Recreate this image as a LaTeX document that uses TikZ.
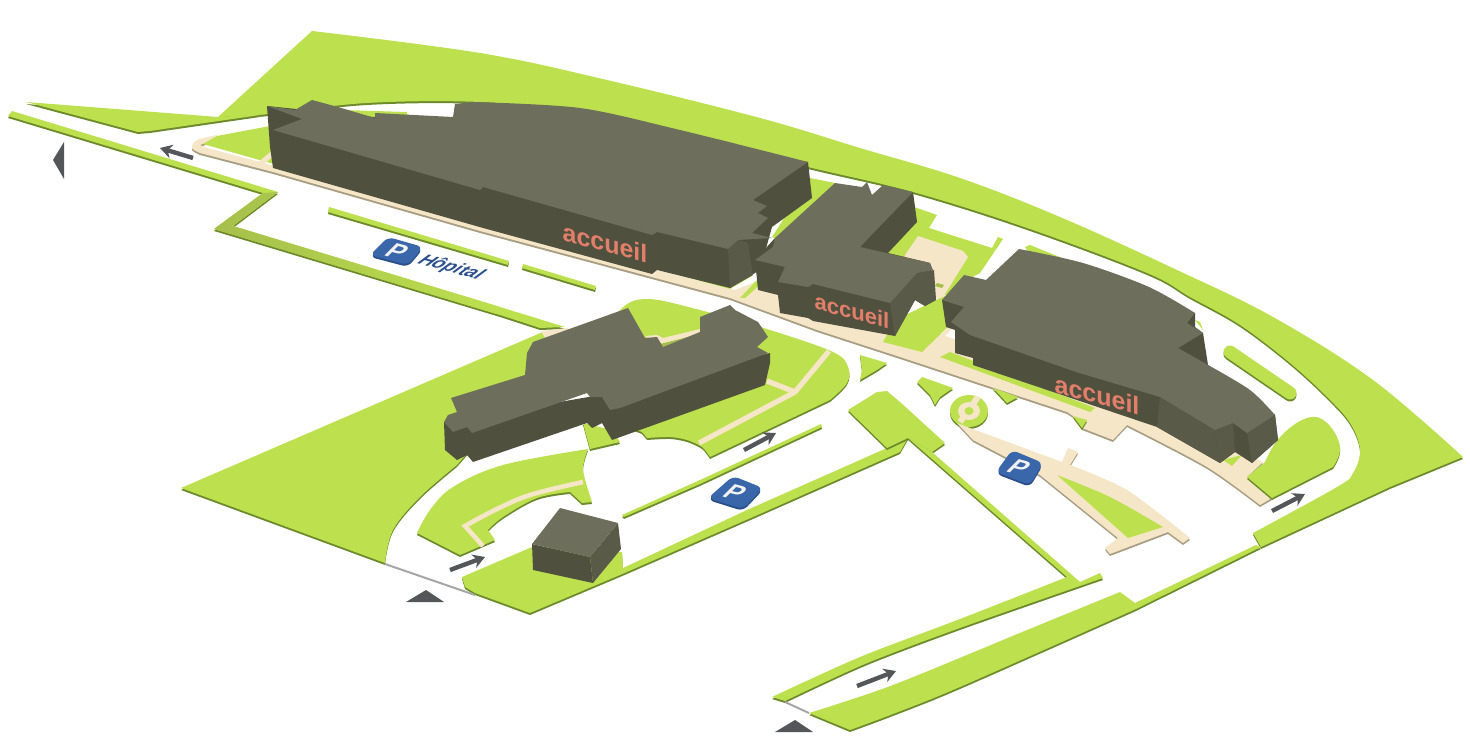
\documentclass[tikz,border=0pt]{standalone}
\usepackage{fontspec}
\setsansfont{Liberation Sans}
\usetikzlibrary{arrows.meta}
\definecolor{grass}{HTML}{BDE04E}
\definecolor{grassdark}{HTML}{6C8A2C}
\definecolor{grassdull}{HTML}{A6BF4C}
\definecolor{sand}{HTML}{F6E6C8}
\definecolor{sanddark}{HTML}{A89E84}
\definecolor{roofgrey}{HTML}{6E6E5C}
\definecolor{wallgrey}{HTML}{50503F}
\definecolor{sidegrey}{HTML}{5A5A49}
\definecolor{signblue}{HTML}{3A67AA}
\definecolor{signdark}{HTML}{2A4F8C}
\definecolor{markgrey}{HTML}{55565A}
\definecolor{salmon}{HTML}{E27F6B}
\tikzset{
  roof/.style={fill=roofgrey},
  wall/.style={fill=wallgrey},
  sidewall/.style={fill=sidegrey},
  marker/.style={fill=markgrey},
  gate/.style={draw=gray!70,line width=1pt},
  walkway/.style={draw=sand,line width=2.6pt},
  wayarrow/.style={draw=markgrey,line width=2.2pt,-{Stealth[length=6pt,width=7pt]}},
  flatsign/.style={font=\sffamily\bfseries,text=white!90!gray,inner sep=0pt,cm={1,-.27,.75,.75,(0,0)}},
  wallsign/.style={font=\sffamily\bfseries,text=salmon,inner sep=0pt,cm={1,-.27,0,1,(0,0)}}
}
\newcommand{\lawn}[1]{\fill[grassdark,shift={(0,2)}] #1; \fill[grass] #1;}
\newcommand{\pave}[1]{\fill[sanddark,shift={(0,2)}] #1; \fill[sand] #1;}
\newcommand{\psign}[1]{\fill[signdark,rounded corners=3pt,shift={(0,2)}] #1; \fill[signblue,rounded corners=3pt] #1;}
\begin{document}
\begin{tikzpicture}[x=.5pt,y=-.5pt]
\useasboundingbox (0,0) rectangle (1470,753);

% outer lawns
\lawn{(312,31) -- plot[smooth,tension=.6] coordinates {(312,31) (480,53) (607,80) (760,118) (860,148) (960,178) (1060,217) (1177,270) (1273,317) (1373,380) (1463,457)} -- (1390,487) -- (1261,547) -- (1253,533) -- plot[smooth,tension=.6] coordinates {(1253,533) (1337,487) (1353,473) (1360,450) (1350,423) (1327,397) (1290,363) (1240,325) (1190,297) (1147,273) (1027,228) (913,192) (808,167) (680,135) (580,112) (480,102) (367,103) (267,114) (218,117)} -- cycle}
\lawn{(26,102) -- (218,117) -- (267,114) -- (150,131) -- (138,132) -- cycle}
\lawn{(12,111) -- (278,192) -- (233,226) -- (500,307) -- (565,327) -- (540,328) -- (500,315) -- (214,229) -- (263,193) -- (8,116) -- cycle}
\shade[left color=grassdull,right color=grass] (278,192) -- (233,226) -- (500,307) -- (500,315) -- (214,229) -- (263,193) -- cycle;
\lawn{(329,207) -- (509,261) -- (508,265) -- (328,212) -- cycle}
\lawn{(523,264) -- (596,286) -- (595,290) -- (522,268) -- cycle}
\lawn{(343,110) -- (407,112) -- (407,125) -- (375,125) -- cycle}

% paved band along the main road
\pave{(217,135) -- plot[smooth] coordinates {(217,135) (197,140) (192,148) (200,153)} -- (273,172) -- (480,231) -- (730,298) -- (817,330) -- (900,357) -- (1067,412) -- (1073,416) -- (1082,428) -- (1113,440) -- (1127,425) -- plot[smooth] coordinates {(1127,425) (1207,467) (1260,505)} -- (1272,498) -- (1247,477) -- (1263,462) -- (1240,450) -- (1150,410) -- (1000,355) -- (900,320) -- (760,280) -- (735,290) -- (480,225) -- (275,166) -- (207,148) -- (200,145) -- (217,139) -- cycle}

% lawns beside the buildings
\fill[grass] (203,144) -- (217,136) -- (270,126) -- (290,168) -- (270,163) -- cycle;
\draw[walkway] (260,164) -- (272,154);
\fill[grass] (440,212) -- (660,270) -- (730,289) -- (752,276) -- (740,240) -- (500,200) -- cycle;
\fill[grass] (740,298) -- (757,280) -- (762,283) -- (745,298) -- cycle;
\fill[grass] (810,178) -- (835,183) -- (917,208) -- (937,215) -- (929,228) -- (992,248) -- (998,237) -- (1003,239) -- (980,273) -- (967,280) -- (947,295) -- (895,300) -- (772,237) -- cycle;
\fill[sand] (918,236) -- (963,251) -- (968,257) -- (940,302) -- (905,272) -- (905,255) -- cycle;
\fill[grassdull] (937,283) -- (944,285) -- (942,288) -- (935,286) -- cycle;
\fill[grass] (1025,247) -- (1030,245) -- (1062,258) -- (1030,255) -- cycle;
\fill[grass] (883,342) -- (922,352) -- (955,320) -- (947,295) -- (895,320) -- cycle;
\draw[draw=sand,line width=2pt] (926,353) -- (952,326);
\fill[grass] (940,357) -- (950,352) -- (1095,408) -- (1090,412) -- cycle;
\lawn{(993,388) -- (1018,397) -- (1007,403) -- cycle}
\lawn{(1073,416) -- (1087,420) -- (1082,428) -- cycle}
\fill[grass] (1195,320) -- (1200,322) -- (1203,330) -- cycle;
\fill[grass] (1223,460) -- (1242,455) -- (1232,466) -- cycle;
\lawn{(1247,477) -- (1265,462) -- plot[smooth,tension=.7] coordinates {(1265,462) (1280,437) (1307,418) (1327,423) (1340,447) (1333,467)} -- (1272,498) -- cycle}
\draw[grassdark,line width=6.5pt,line cap=round] (1230,354) -- (1290,395);
\draw[grass,line width=6.5pt,line cap=round] (1230,352) -- (1290,393);

% lawns of the lower part
\lawn{(181,488) -- (545,331) -- (565,335) -- (470,450) -- plot[smooth,tension=.6] coordinates {(457,465) (420,497) (393,530) (385,563)} -- cycle}
\lawn{(600,345) -- plot[smooth,tension=.6] coordinates {(600,345) (620,310) (647,299) (700,310) (770,330) (833,352) (848,367) (847,383) (830,400)} -- (710,457) -- plot[smooth] coordinates {(710,457) (702,447) (687,440) (670,437) (647,438)} -- (642,432) -- (610,420) -- cycle}
\fill[sand] (541,331) -- (568,328) -- (565,338) -- (545,338) -- cycle;
\draw[walkway] (829,351) -- (795,392) -- (699,443);
\draw[walkway] (767,381) -- (795,392);
\fill[sand] (645,336) -- (657,335) -- (663,338) -- (700,329) -- (700,336) -- (663,347) -- cycle;
\fill[grassdull] (660,344) -- (692,336) -- (663,347) -- cycle;
\lawn{(583,423) -- (590,449) -- (620,442) -- (612,430) -- cycle}
\lawn{(417,533) -- plot[smooth,tension=.6] coordinates {(417,533) (430,510) (453,487) (503,465) (588,449)} -- plot[smooth] coordinates {(588,449) (583,470) (592,502)} -- (582,503) -- (570,492) -- plot[smooth,tension=.6] coordinates {(570,492) (537,498) (503,517) (488,530)} -- (495,540) -- (460,555) -- cycle}
\draw[draw=sand,line width=2.3pt] plot[smooth,tension=.6] coordinates {(583,482) (530,495) (495,510) (465,526)} -- (483,546);
\lawn{(462,577) -- (532,547) -- (622,552) -- (623,568) -- (747,510) -- (887,448) -- (908,438) -- (900,452) -- (753,517) -- (620,575) -- (530,613) -- (475,593) -- (465,587) -- cycle}
\lawn{(622,515) -- (700,480) -- (821,424) -- (822,427) -- (700,484) -- (624,517) -- cycle}
\lawn{(848,410) -- (877,392) -- (887,391) -- (900,402) -- (945,443) -- (932,452) -- (908,438) -- (887,448) -- cycle}
\lawn{(772,697) -- plot[smooth,tension=.5] coordinates {(772,697) (860,657) (960,619) (1067,577)} -- (908,438) -- (932,452) -- (1080,582) -- (1100,573) -- (1103,578) -- plot[smooth,tension=.5] coordinates {(1103,578) (960,628) (865,664) (785,701)} -- cycle}
\lawn{(809,713) -- plot[smooth,tension=.5] coordinates {(809,713) (893,685) (1027,630) (1120,592)} -- (1135,603) -- (1256,545) -- (1261,547) -- (1136,609) -- plot[smooth,tension=.5] coordinates {(1136,609) (960,687) (893,714) (850,730)} -- cycle}

% small islands and the roundabout
\lawn{(860,355) -- (887,363) -- (877,370) -- (860,380) -- (862,370) -- cycle}
\lawn{(917,382) -- (922,377) -- (953,388) -- (940,397) -- (935,405) -- (930,395) -- cycle}
\fill[grassdark] (969,413) ellipse [x radius=19,y radius=16];
\fill[grass] (969,411) ellipse [x radius=19,y radius=16];
\fill[sand] (969,411) ellipse [x radius=11,y radius=9];
\draw[draw=sand,line width=3pt] (978,397) -- (960,422);
\fill[grass] (969,411) ellipse [x radius=4.5,y radius=4];
\pave{(957,423) -- (970,428) -- (1062,462) -- (1068,448) -- (1078,452) -- (1070,465) -- plot[smooth,tension=.5] coordinates {(1070,465) (1127,490) (1190,538)} -- (1183,543) -- (1168,532) -- (1110,554) -- (1105,548) -- (1118,538) -- (1040,475) -- (973,440) -- cycle}
\fill[grass] (1057,475) -- plot[smooth,tension=.5] coordinates {(1057,475) (1110,497) (1163,527)} -- (1128,538) -- cycle;

% road gates and direction marks
\draw[gate] (385,564) -- (475,595);
\draw[gate] (785,702) -- (809,713);
\fill[marker] (53,160) -- (64,142) -- (64,179) -- cycle;
\fill[marker] (406,602) -- (426,590) -- (444,602) -- cycle;
\fill[marker] (775,732) -- (795,720) -- (813,732) -- cycle;
\draw[wayarrow] (193,158) -- (160,148);
\draw[wayarrow] (450,570) -- (485,557);
\draw[wayarrow] (744,450) -- (776,433);
\draw[wayarrow] (857,686) -- (896,671);
\draw[wayarrow] (1272,511) -- (1305,494);

% parking signs
\psign{(388,237) -- (423,247) -- (408,265) -- (370,255) -- cycle}
\psign{(733,476) -- (763,488) -- (743,509) -- (708,498) -- cycle}
\psign{(1012,450) -- (1043,463) -- (1030,485) -- (996,472) -- cycle}
\node[flatsign,font=\sffamily\bfseries\large] (parkhopital) at (397,251) {P};
\node[flatsign,font=\sffamily\bfseries\large] (parksouth) at (735,492) {P};
\node[flatsign,font=\sffamily\bfseries\large] (parkeast) at (1019,467) {P};
\node[flatsign,font=\sffamily\bfseries\itshape\small,text=signdark] (hopital) at (451,268) {Hôpital};

% main building
\fill[wall] (267,106) -- (270,147) -- (273,168) -- (483,228) -- (652,274) -- (657,270) -- (730,288) -- (760,270) -- (772,227) -- (812,198) -- (808,162) -- cycle;
\fill[sidewall] (728,249) -- (738,240) -- (748,243) -- (753,275) -- (730,288) -- cycle;
\fill[roof] (267,106) -- (295,110) -- (312,100) -- (338,107) -- (375,118) -- (375,113) -- (453,117) -- (455,104) -- (473,102) -- plot[smooth,tension=.5] coordinates {(473,102) (580,108) (680,130) (808,162)} -- (753,200) -- (767,206) -- (758,213) -- (768,218) -- (752,233) -- (772,238) -- (738,240) -- (728,249) -- (657,232) -- (652,235) -- (483,187) -- (480,190) -- (273,130) -- (302,119) -- cycle;
\node[wallsign,font=\sffamily\bfseries\fontsize{12.5}{14}\selectfont] (accueilwest) at (605,243) {accueil};

% middle building
\fill[wall] (913,192) -- (917,222) -- (888,253) -- (930,263) -- (936,300) -- (925,306) -- (915,300) -- (895,336) -- (813,321) -- (808,318) -- (780,313) -- (778,295) -- (758,290) -- (755,260) -- (775,238) -- cycle;
\fill[sidewall] (890,303) -- (917,273) -- (934,270) -- (936,300) -- (925,306) -- (915,300) -- (895,336) -- cycle;
\fill[roof] (835,183) -- (862,187) -- (867,182) -- (872,195) -- (883,185) -- (913,192) -- (860,247) -- (930,263) -- (933,270) -- (917,273) -- (890,303) -- (813,284) -- (808,287) -- (778,282) -- (785,267) -- (755,260) -- (773,247) -- (775,238) -- cycle;
\node[wallsign,font=\sffamily\bfseries\fontsize{11}{13}\selectfont] (accueilmiddle) at (852,311) {accueil};

% east building
\fill[wall] (942,300) -- (946,327) -- (955,330) -- (955,353) -- (973,358) -- (973,365) -- (1157,427) -- (1220,463) -- (1235,452) -- (1252,463) -- (1278,440) -- (1275,415) -- (1208,365) -- (1203,333) -- (1195,327) -- (1195,313) -- cycle;
\fill[sidewall] (1160,397) -- (1215,430) -- (1220,463) -- (1157,427) -- cycle;
\fill[sidewall] (1247,433) -- (1275,415) -- (1278,440) -- (1252,463) -- cycle;
\fill[sidewall] (1215,430) -- (1233,423) -- (1235,452) -- (1220,463) -- cycle;
\fill[roof] (964,275) -- (986,280) -- (1019,249) -- plot[smooth,tension=.5] coordinates {(1019,249) (1083,263) (1149,287) (1195,313)} -- (1187,323) -- (1203,333) -- (1178,348) -- (1208,365) -- plot[smooth,tension=.5] coordinates {(1208,365) (1250,390) (1275,415)} -- (1247,433) -- (1233,423) -- (1215,430) -- (1160,397) -- (1076,372) -- (970,335) -- (951,322) -- (964,307) -- (942,300) -- cycle;
\node[wallsign,font=\sffamily\bfseries\fontsize{12.5}{14}\selectfont] (accueileast) at (1097,395) {accueil};

% south building
\fill[wall] (444,422) -- (445,450) -- (457,460) -- (467,455) -- (473,462) -- (587,423) -- (592,428) -- (602,423) -- (612,440) -- (765,385) -- (770,363) -- (770,353) -- (600,395) -- cycle;
\fill[roof] (451,398) -- (525,375) -- (527,353) -- (533,342) -- (628,308) -- (645,338) -- (657,337) -- (663,347) -- (700,332) -- (700,317) -- (730,305) -- (735,310) -- (758,322) -- (768,337) -- (757,347) -- (768,353) -- (620,408) -- (610,410) -- (602,397) -- (590,397) -- (587,393) -- (472,433) -- (467,427) -- (453,432) -- (444,422) -- (448,415) -- (457,412) -- cycle;

% small block
\fill[wall] (532,544) -- (533,570) -- (593,583) -- (590,557) -- cycle;
\fill[sidewall] (590,557) -- (618,523) -- (621,549) -- (593,583) -- cycle;
\fill[roof] (560,508) -- (618,523) -- (590,557) -- (532,544) -- cycle;
\end{tikzpicture}
\end{document}
